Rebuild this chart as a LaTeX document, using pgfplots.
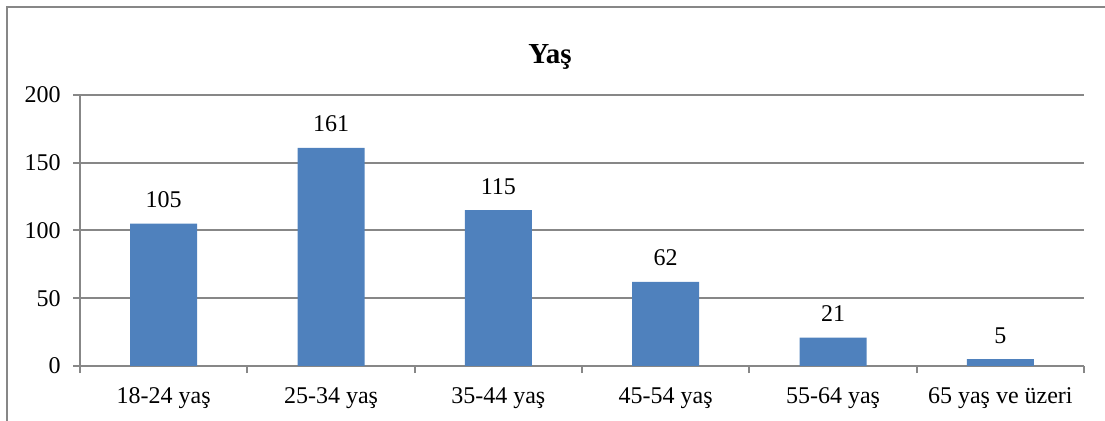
\documentclass[border=0pt]{standalone}
\usepackage{fontspec}
\setmainfont{Liberation Serif}
\usepackage{pgfplots}
\pgfplotsset{compat=1.18}
\definecolor{barblue}{HTML}{4F81BD}
\definecolor{linegray}{HTML}{878787}
\begin{document}
\fontsize{12bp}{14bp}\selectfont
\begin{tikzpicture}
\useasboundingbox (0,0) rectangle (552.5bp,210.5bp);
\draw[linegray, line width=1bp] (3.5bp,0) -- (3.5bp,207bp) -- (552.5bp,207bp);
\node[font=\fontsize{14.5bp}{16bp}\selectfont\bfseries] at (275bp,182bp) {Yaş};
\begin{axis}[
  at={(40bp,27.5bp)}, anchor=south west,
  scale only axis, width=502bp, height=135.5bp,
  xmin=-0.5, xmax=5.5, ymin=0, ymax=200,
  ytick={0,50,...,200},
  xtick={-0.5,0.5,...,5.5},
  x tick label as interval,
  xticklabels={18-24 yaş,25-34 yaş,35-44 yaş,45-54 yaş,55-64 yaş,65 yaş ve üzeri},
  axis x line*=bottom, axis y line*=left,
  axis line style={linegray, line width=1bp},
  tick style={linegray, line width=1bp},
  tick align=outside, major tick length=3.5bp,
  ymajorgrids, grid style={linegray, line width=1bp},
  /pgf/number format/assume math mode=true,
  ticklabel style={font=\fontsize{12bp}{14bp}\selectfont, text=black},
  yticklabel style={xshift=-2bp},
  xticklabel style={yshift=-3bp},
  ybar, bar width=33.5bp,
  nodes near coords,
  every node near coord/.append style={font=\fontsize{12bp}{14bp}\selectfont, text=black, anchor=base, inner sep=0pt, yshift=8bp},
]
\addplot[fill=barblue, draw=none] coordinates {(0,105) (1,161) (2,115) (3,62) (4,21) (5,5)};
\end{axis}
\end{tikzpicture}
\end{document}
